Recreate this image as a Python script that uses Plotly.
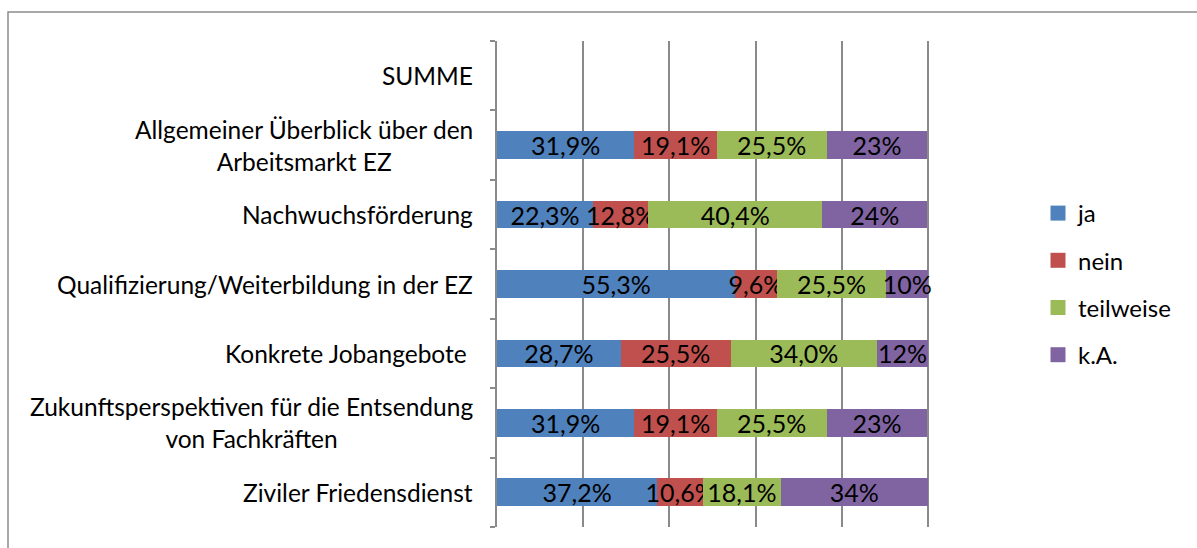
import plotly.graph_objects as go

# categories, top to bottom as shown in the chart
categories = [
    "SUMME",
    "Allgemeiner Überblick über den<br>Arbeitsmarkt EZ",
    "Nachwuchsförderung",
    "Qualifizierung/Weiterbildung in der EZ",
    "Konkrete Jobangebote\u00a0",
    "Zukunftsperspektiven für die Entsendung<br>von Fachkräften",
    "Ziviler Friedensdienst",
]

ja = [None, 31.9, 22.3, 55.3, 28.7, 31.9, 37.2]
nein = [None, 19.1, 12.8, 9.6, 25.5, 19.1, 10.6]
teilweise = [None, 25.5, 40.4, 25.5, 34.0, 25.5, 18.1]
ka = [None, 23.4, 24.4, 9.6, 11.8, 23.4, 34.1]

series = [
    ("ja", ja, "#4F81BD", 1),
    ("nein", nein, "#C0504D", 1),
    ("teilweise", teilweise, "#9BBB59", 1),
    ("k.A.", ka, "#8064A2", 0),
]

FONT = "Lato"
GRID = "#8a8a8a"

W, H = 1197, 548
L, R, T, B = 497, 183, 41, 21
pw, ph = W - L - R, H - T - B


def fmt(v, dec):
    if v is None:
        return ""
    if dec == 0:
        return f"{round(v)}%"
    return f"{v:.1f}%".replace(".", ",")


fig = go.Figure()

for name, vals, color, dec in series:
    fig.add_trace(
        go.Bar(
            y=categories,
            x=vals,
            name=name,
            orientation="h",
            width=0.4,
            marker=dict(color=color, line=dict(width=0)),
            text=[fmt(v, dec) for v in vals],
            textposition="inside",
            insidetextanchor="middle",
            constraintext="none",
            textangle=0,
            insidetextfont=dict(family=FONT, size=25, color="#000000"),
            cliponaxis=False,
            showlegend=False,
        )
    )

# legend entries with larger square swatches
for name, vals, color, dec in series:
    fig.add_trace(
        go.Scatter(
            x=[None], y=[None],
            mode="markers",
            name=name,
            marker=dict(symbol="square", size=15, color=color),
            legendgroup=name,
        )
    )

# category labels as centred multi-line blocks, right aligned to the axis
for c in categories:
    fig.add_annotation(
        x=0, xref="paper", y=c, yref="y",
        text=c, showarrow=False,
        xanchor="right", yanchor="middle", align="center",
        xshift=-22,
        font=dict(family=FONT, size=24.5, color="#000000"),
    )

# outer chart frame
fig.add_shape(
    type="rect", xref="paper", yref="paper",
    x0=(8 - L) / pw, x1=(W + 10 - L) / pw,
    y0=-(H + 10 - T - ph) / ph, y1=1 + (T - 12) / ph,
    line=dict(color="#8c8c8c", width=1.5),
    fillcolor="rgba(0,0,0,0)",
    layer="below",
)

fig.update_layout(
    width=W,
    height=H,
    margin=dict(l=L, r=R, t=T, b=B),
    barmode="stack",
    paper_bgcolor="white",
    plot_bgcolor="white",
    font=dict(family=FONT, size=24, color="#000000"),
    showlegend=True,
    legend=dict(
        x=(1038 - L) / pw, xanchor="left",
        y=0.5, yanchor="middle",
        traceorder="grouped",
        tracegroupgap=13,
        itemsizing="trace",
        font=dict(family=FONT, size=24),
        bgcolor="rgba(0,0,0,0)",
    ),
    xaxis=dict(
        range=[0, 120],
        dtick=20,
        showgrid=True,
        gridcolor=GRID,
        gridwidth=1.5,
        zeroline=False,
        showline=False,
        showticklabels=False,
        fixedrange=True,
    ),
    yaxis=dict(
        categoryorder="array",
        categoryarray=categories[::-1],
        range=[-0.5, len(categories) - 0.5],
        showgrid=False,
        showline=True,
        linecolor=GRID,
        linewidth=1.5,
        ticks="outside",
        tickson="boundaries",
        ticklen=5,
        tickcolor=GRID,
        tickwidth=1.5,
        showticklabels=False,
        fixedrange=True,
    ),
)

fig.write_html(
    "out.html",
    config={"displayModeBar": False},
    post_script="document.body.style.margin='0';",
)
